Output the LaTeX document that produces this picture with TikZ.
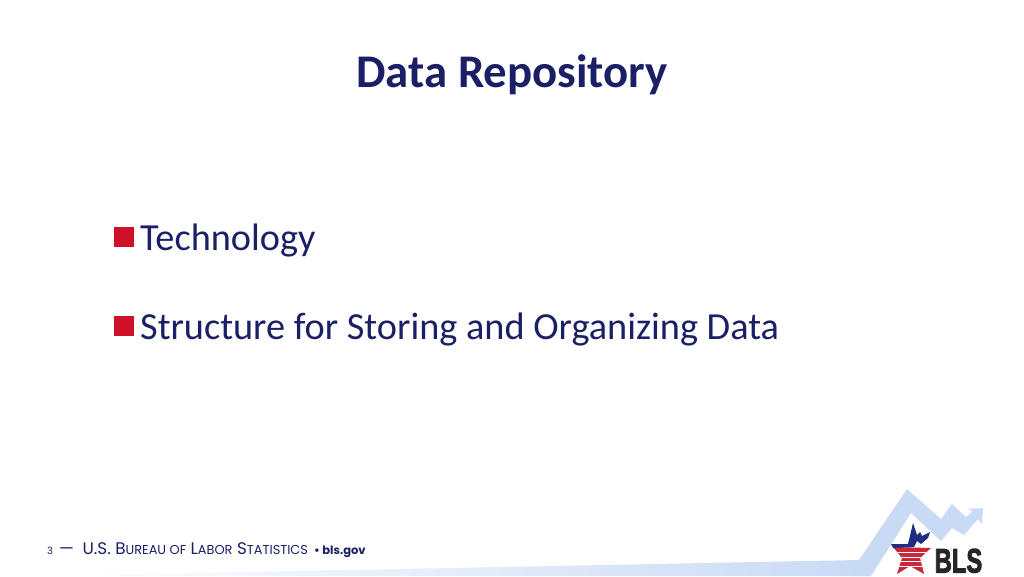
\documentclass[tikz,border=0pt]{standalone}
\usepackage{fontspec}
\setmainfont{Carlito}
\newfontfamily\footfont{Poppins}
\newfontfamily\logofont[BoldFeatures={FakeBold=3}]{Liberation Sans}
\definecolor{navyblue}{HTML}{1B2066}
\definecolor{bulletred}{HTML}{CE1126}
\definecolor{bandblue}{HTML}{C9DAF5}
\definecolor{logoblue}{HTML}{1F2F80}
\definecolor{logored}{HTML}{C8283A}
\tikzset{
  bullet/.style={fill=bulletred,draw=none,minimum size=20pt,inner sep=0pt},
  item/.style={text=navyblue,font=\fontsize{38.3}{38.3}\selectfont,anchor=base west,inner sep=0pt},
  foot/.style={text=navyblue,inner sep=0pt,anchor=base west}
}
\newcommand{\smallsc}[1]{{\fontsize{12.9}{14}\selectfont #1}}
\begin{document}
\begin{tikzpicture}[x=1pt,y=-1pt,join=round]
  \useasboundingbox (0,0) rectangle (1024,576);
  \fill[white] (0,0) rectangle (1024,576);
  % band and arrow
  \shade[left color=white,right color=bandblue] (40,576)--(859,560)--(871,560)--(871,576)--cycle;
  \fill[bandblue] (859,560)--(907,489)--(941,519)--(952,504)--(966,517)--(973,511)--(968,509)--(983,508)--(982,524)--(978,519)--(964,535)--(952,528)--(941,541)--(911,513)--(871,576)--(850,576)--cycle;
  % title
  \node[text=navyblue,font=\fontsize{46.8}{46.8}\selectfont\bfseries,inner sep=0pt,anchor=base] (title) at (512,87) {Data Repository};
  % bullets
  \node[bullet] (bulleta) at (124,237) {};
  \node[item] (itema) at (140,250.5) {Technology};
  \node[bullet] (bulletb) at (124,325.5) {};
  \node[item] (itemb) at (140,339.5) {Structure for Storing and Organizing Data};
  % footer
  \node[foot,font=\footfont\fontsize{10}{10}\selectfont] (pagenum) at (47,554) {3};
  \node[foot,font=\footfont\fontsize{16.8}{16.8}\selectfont] (footer) at (59,554) {—\hspace{4pt} U.S. B\smallsc{UREAU OF} L\smallsc{ABOR} S\smallsc{TATISTICS}};
  \node[foot,font=\footfont\fontsize{11.5}{12}\selectfont\bfseries] (site) at (314,554) {• bls.gov};
  % logo
  \begin{scope}
    \clip (893,547)--(931,548)--(920,558)--(924,574)--(910,566)--(897,574)--(902,558)--cycle;
    \fill[logored] (885,540) rectangle (935,576);
    \foreach \yy in {552,556.5,561,565.5}
      \fill[white] (885,\yy) rectangle (935,\yy+1.2);
  \end{scope}
  \fill[logoblue] (891,544)--(908,544)--(913,523)--(917,535)--(920,532)--(922,536)--(930,532)--(928,538)--(921,544)--(917,541)--(914,547)--(893,548)--cycle;
  \node[inner sep=0pt,anchor=base,text=black!85] (logo) at (958.5,572.5) {\scalebox{.7}[1]{\logofont\fontsize{34}{34}\selectfont\bfseries BLS}};
\end{tikzpicture}
\end{document}
